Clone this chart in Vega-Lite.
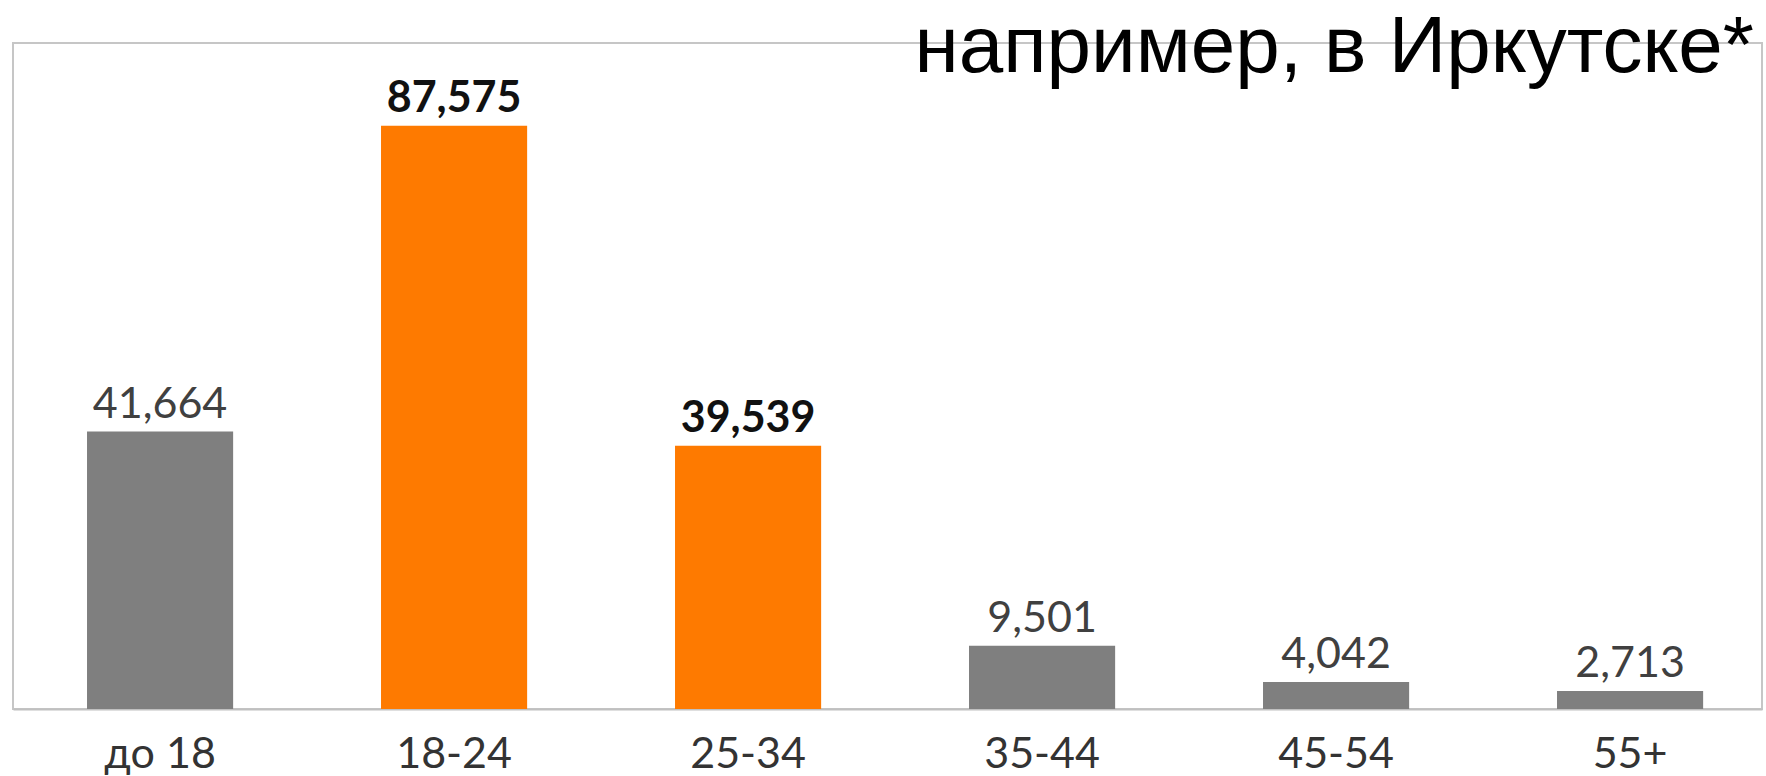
{
  "$schema": "https://vega.github.io/schema/vega-lite/v6.json",
  "autosize": {"type": "none"},
  "padding": {"left": 13, "top": 43, "right": 4, "bottom": 67},
  "width": 1749,
  "height": 666,
  "background": "white",
  "title": {
    "text": "например, в Иркутске*",
    "font": "Liberation Sans",
    "fontSize": 80,
    "fontWeight": 400,
    "color": "#000000",
    "anchor": "end",
    "frame": "group",
    "baseline": "alphabetic",
    "offset": 0,
    "dy": 109,
    "dx": -8
  },
  "config": {
    "view": {"stroke": "#c6c6c6", "strokeWidth": 2}
  },
  "data": {
    "values": [
      {"age": "до 18", "value": 41664, "hl": "no"},
      {"age": "18-24", "value": 87575, "hl": "yes"},
      {"age": "25-34", "value": 39539, "hl": "yes"},
      {"age": "35-44", "value": 9501, "hl": "no"},
      {"age": "45-54", "value": 4042, "hl": "no"},
      {"age": "55+", "value": 2713, "hl": "no"}
    ]
  },
  "encoding": {
    "x": {
      "field": "age",
      "type": "nominal",
      "sort": null,
      "scale": {"paddingInner": 0.503, "paddingOuter": 0.226, "align": 0.557},
      "axis": {
        "title": null,
        "ticks": false,
        "domainColor": "#c0c0c0",
        "domainWidth": 2,
        "labelAngle": 0,
        "labelFont": "Lato",
        "labelFontSize": 43,
        "labelColor": "#333333",
        "labelBaseline": "alphabetic",
        "labelPadding": 58
      }
    },
    "y": {
      "field": "value",
      "type": "quantitative",
      "scale": {"domain": [0, 100000]},
      "axis": null
    }
  },
  "layer": [
    {
      "mark": {"type": "bar"},
      "encoding": {
        "color": {
          "field": "hl",
          "type": "nominal",
          "scale": {"domain": ["no", "yes"], "range": ["#7f7f7f", "#fe7a00"]},
          "legend": null
        }
      }
    },
    {
      "transform": [{"filter": "datum.hl == 'no'"}],
      "mark": {"type": "text", "font": "Lato", "fontSize": 43, "color": "#404040", "baseline": "alphabetic", "dy": -14},
      "encoding": {"text": {"field": "value", "type": "quantitative", "format": ",d"}}
    },
    {
      "transform": [{"filter": "datum.hl == 'yes'"}],
      "mark": {"type": "text", "font": "Lato", "fontSize": 43, "fontWeight": "bold", "color": "#111111", "baseline": "alphabetic", "dy": -14},
      "encoding": {"text": {"field": "value", "type": "quantitative", "format": ",d"}}
    }
  ]
}
